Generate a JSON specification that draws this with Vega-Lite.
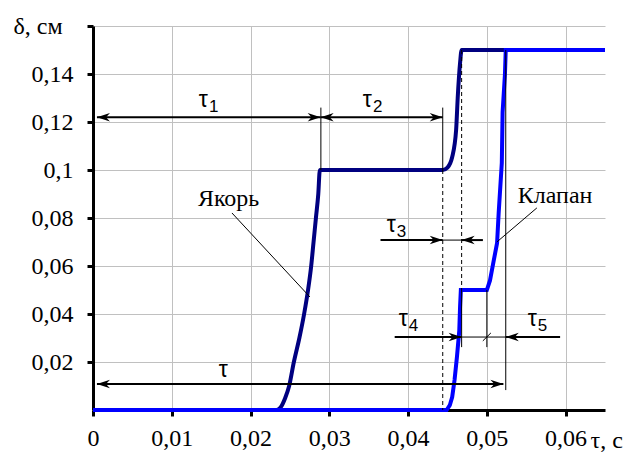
{
  "$schema": "https://vega.github.io/schema/vega-lite/v6.json",
  "width": 512,
  "height": 384,
  "autosize": "none",
  "padding": {"left": 93, "top": 26, "right": 38, "bottom": 44},
  "background": "white",
  "config": {"view": {"stroke": null}},
  "datasets": {
    "yakor": [
      {"x": 0, "y": 0}, {"x": 0.0233, "y": 0}, {"x": 0.0238, "y": 0.001}, {"x": 0.0244, "y": 0.005},
      {"x": 0.0249, "y": 0.01}, {"x": 0.0255, "y": 0.02}, {"x": 0.0262, "y": 0.03}, {"x": 0.0268, "y": 0.04},
      {"x": 0.0273, "y": 0.05}, {"x": 0.0277, "y": 0.06}, {"x": 0.028, "y": 0.07}, {"x": 0.0283, "y": 0.08},
      {"x": 0.0286, "y": 0.09}, {"x": 0.0288, "y": 0.1}, {"x": 0.0444, "y": 0.1}, {"x": 0.045, "y": 0.101},
      {"x": 0.0456, "y": 0.1054}, {"x": 0.0461, "y": 0.1167}, {"x": 0.0463, "y": 0.13}, {"x": 0.0466, "y": 0.1446},
      {"x": 0.0468, "y": 0.15}, {"x": 0.065, "y": 0.15}
    ],
    "klapan": [
      {"x": 0, "y": 0}, {"x": 0.0449, "y": 0}, {"x": 0.0453, "y": 0.002}, {"x": 0.0456, "y": 0.0054},
      {"x": 0.0459, "y": 0.0125}, {"x": 0.0462, "y": 0.022}, {"x": 0.0465, "y": 0.033}, {"x": 0.0466, "y": 0.043},
      {"x": 0.0467, "y": 0.05}, {"x": 0.05, "y": 0.05}, {"x": 0.0504, "y": 0.054}, {"x": 0.0508, "y": 0.061},
      {"x": 0.0513, "y": 0.0696}, {"x": 0.0515, "y": 0.082}, {"x": 0.0519, "y": 0.103}, {"x": 0.052, "y": 0.124},
      {"x": 0.0523, "y": 0.14}, {"x": 0.0524, "y": 0.15}, {"x": 0.065, "y": 0.15}
    ],
    "thin": [
      {"x": 0.02893, "y": 0.1, "x2": 0.02893, "y2": 0.126},
      {"x": 0.0444, "y": 0.1, "x2": 0.0444, "y2": 0.126},
      {"x": 0.0524, "y": 0.15, "x2": 0.0524, "y2": 0.0083},
      {"x": 0.0468, "y": 0.05, "x2": 0.0468, "y2": 0.0262},
      {"x": 0.05, "y": 0.05, "x2": 0.05, "y2": 0.0262},
      {"x": 0.01764, "y": 0.0821, "x2": 0.02754, "y2": 0.0471},
      {"x": 0.05635, "y": 0.0842, "x2": 0.05127, "y2": 0.07},
      {"x": 0.04949, "y": 0.0288, "x2": 0.05051, "y2": 0.0321},
      {"x": 0.0444, "y": 0.0708, "x2": 0.0468, "y2": 0.0708},
      {"x": 0.0468, "y": 0.0304, "x2": 0.0524, "y2": 0.0304}
    ],
    "dashed": [
      {"x": 0.0444, "y": 0.1, "x2": 0.0444, "y2": 0},
      {"x": 0.0468, "y": 0.15, "x2": 0.0468, "y2": 0.05}
    ],
    "shafts": [
      {"x": 0.0005, "y": 0.122, "x2": 0.0289, "y2": 0.122},
      {"x": 0.0289, "y": 0.122, "x2": 0.0444, "y2": 0.122},
      {"x": 0.0365, "y": 0.0708, "x2": 0.0444, "y2": 0.0708},
      {"x": 0.0495, "y": 0.0708, "x2": 0.0468, "y2": 0.0708},
      {"x": 0.0383, "y": 0.0304, "x2": 0.0468, "y2": 0.0304},
      {"x": 0.0593, "y": 0.0304, "x2": 0.0524, "y2": 0.0304},
      {"x": 0.0005, "y": 0.0108, "x2": 0.0521, "y2": 0.0108}
    ],
    "heads": [
      {"x": 0.0005, "y": 0.122, "dir": "l"}, {"x": 0.0289, "y": 0.122, "dir": "r"},
      {"x": 0.0289, "y": 0.122, "dir": "l"}, {"x": 0.0444, "y": 0.122, "dir": "r"},
      {"x": 0.0444, "y": 0.0708, "dir": "r"}, {"x": 0.0468, "y": 0.0708, "dir": "l"},
      {"x": 0.0468, "y": 0.0304, "dir": "r"}, {"x": 0.0524, "y": 0.0304, "dir": "l"},
      {"x": 0.0005, "y": 0.0108, "dir": "l"}, {"x": 0.0521, "y": 0.0108, "dir": "r"}
    ],
    "taus": [
      {"x": 0.01459, "y": 0.1263, "main": "τ", "sub": "1"},
      {"x": 0.03541, "y": 0.1263, "main": "τ", "sub": "2"},
      {"x": 0.03845, "y": 0.0742, "main": "τ", "sub": "3"},
      {"x": 0.03997, "y": 0.035, "main": "τ", "sub": "4"},
      {"x": 0.05635, "y": 0.035, "main": "τ", "sub": "5"},
      {"x": 0.01713, "y": 0.0138, "main": "τ", "sub": ""}
    ],
    "names": [
      {"x": 0.01332, "y": 0.085, "name": "Якорь"},
      {"x": 0.05393, "y": 0.08625, "name": "Клапан"}
    ]
  },
  "layer": [
    {
      "data": {"name": "yakor"},
      "mark": {"type": "line", "color": "#000080", "strokeWidth": 4, "interpolate": "monotone"},
      "encoding": {
        "x": {
          "field": "x", "type": "quantitative",
          "scale": {"domain": [0, 0.065], "nice": false, "zero": false},
          "axis": {
            "values": [0, 0.01, 0.02, 0.03, 0.04, 0.05, 0.06],
            "labelExpr": "replace(format(datum.value, '.2~f'), '.', ',')",
            "labelFont": "Liberation Serif", "labelFontSize": 24, "labelColor": "black",
            "labelPadding": 10, "labelFlush": false, "labelOverlap": false,
            "tickSize": 6, "tickWidth": 3, "tickColor": "black",
            "domainColor": "black", "domainWidth": 3,
            "grid": true, "gridColor": "#c0c0c0", "gridWidth": 1,
            "title": "τ, с", "titleFont": "Liberation Serif", "titleFontSize": 24,
            "titleFontWeight": "normal", "titleColor": "black",
            "titleX": 497, "titleY": 30, "titleAlign": "left", "titleBaseline": "middle", "titleAngle": 0
          }
        },
        "y": {
          "field": "y", "type": "quantitative",
          "scale": {"domain": [0, 0.16], "nice": false, "zero": false},
          "axis": {
            "values": [0.02, 0.04, 0.06, 0.08, 0.1, 0.12, 0.14, 0.16],
            "labelExpr": "datum.value > 0.15 ? '' : replace(format(datum.value, '.2~f'), '.', ',')",
            "labelFont": "Liberation Serif", "labelFontSize": 24, "labelColor": "black",
            "labelPadding": 14, "labelFlush": false, "labelOverlap": false,
            "tickSize": 6, "tickWidth": 3, "tickColor": "black",
            "domainColor": "black", "domainWidth": 3,
            "grid": true, "gridColor": "#c0c0c0", "gridWidth": 1,
            "title": "δ, см", "titleFont": "Liberation Serif", "titleFontSize": 24,
            "titleFontWeight": "normal", "titleColor": "black",
            "titleX": -80, "titleY": 0, "titleAlign": "left", "titleBaseline": "middle", "titleAngle": 0
          }
        }
      }
    },
    {
      "data": {"name": "klapan"},
      "mark": {"type": "line", "color": "#0000ff", "strokeWidth": 4},
      "encoding": {
        "x": {"field": "x", "type": "quantitative", "scale": {"domain": [0, 0.065], "nice": false, "zero": false}},
        "y": {"field": "y", "type": "quantitative", "scale": {"domain": [0, 0.16], "nice": false, "zero": false}}
      }
    },
    {
      "data": {"name": "thin"},
      "mark": {"type": "rule", "color": "black", "strokeWidth": 1},
      "encoding": {
        "x": {"field": "x", "type": "quantitative", "scale": {"domain": [0, 0.065], "nice": false, "zero": false}},
        "y": {"field": "y", "type": "quantitative", "scale": {"domain": [0, 0.16], "nice": false, "zero": false}},
        "x2": {"field": "x2"},
        "y2": {"field": "y2"}
      }
    },
    {
      "data": {"name": "dashed"},
      "mark": {"type": "rule", "color": "black", "strokeWidth": 1, "strokeDash": [4, 3]},
      "encoding": {
        "x": {"field": "x", "type": "quantitative", "scale": {"domain": [0, 0.065], "nice": false, "zero": false}},
        "y": {"field": "y", "type": "quantitative", "scale": {"domain": [0, 0.16], "nice": false, "zero": false}},
        "x2": {"field": "x2"},
        "y2": {"field": "y2"}
      }
    },
    {
      "data": {"name": "shafts"},
      "mark": {"type": "rule", "color": "black", "strokeWidth": 2},
      "encoding": {
        "x": {"field": "x", "type": "quantitative", "scale": {"domain": [0, 0.065], "nice": false, "zero": false}},
        "y": {"field": "y", "type": "quantitative", "scale": {"domain": [0, 0.16], "nice": false, "zero": false}},
        "x2": {"field": "x2"},
        "y2": {"field": "y2"}
      }
    },
    {
      "data": {"name": "heads"},
      "mark": {"type": "point", "filled": true, "color": "black", "opacity": 1, "size": 169, "strokeWidth": 0},
      "encoding": {
        "x": {"field": "x", "type": "quantitative", "scale": {"domain": [0, 0.065], "nice": false, "zero": false}},
        "y": {"field": "y", "type": "quantitative", "scale": {"domain": [0, 0.16], "nice": false, "zero": false}},
        "shape": {
          "field": "dir", "type": "nominal", "legend": null,
          "scale": {"domain": ["r", "l"], "range": ["M0,0L-2,-0.65L-1.4,0L-2,0.65Z", "M0,0L2,-0.65L1.4,0L2,0.65Z"]}
        }
      }
    },
    {
      "data": {"name": "taus"},
      "mark": {"type": "text", "font": "Liberation Sans", "fontSize": 23, "color": "black", "align": "right", "baseline": "alphabetic"},
      "encoding": {
        "x": {"field": "x", "type": "quantitative", "scale": {"domain": [0, 0.065], "nice": false, "zero": false}},
        "y": {"field": "y", "type": "quantitative", "scale": {"domain": [0, 0.16], "nice": false, "zero": false}},
        "text": {"field": "main"}
      }
    },
    {
      "data": {"name": "taus"},
      "mark": {"type": "text", "font": "Liberation Sans", "fontSize": 17, "color": "black", "align": "left", "baseline": "alphabetic", "dx": 1, "dy": 5},
      "encoding": {
        "x": {"field": "x", "type": "quantitative", "scale": {"domain": [0, 0.065], "nice": false, "zero": false}},
        "y": {"field": "y", "type": "quantitative", "scale": {"domain": [0, 0.16], "nice": false, "zero": false}},
        "text": {"field": "sub"}
      }
    },
    {
      "data": {"name": "names"},
      "mark": {"type": "text", "font": "Liberation Serif", "fontSize": 24, "color": "black", "align": "left", "baseline": "alphabetic"},
      "encoding": {
        "x": {"field": "x", "type": "quantitative", "scale": {"domain": [0, 0.065], "nice": false, "zero": false}},
        "y": {"field": "y", "type": "quantitative", "scale": {"domain": [0, 0.16], "nice": false, "zero": false}},
        "text": {"field": "name"}
      }
    }
  ]
}
